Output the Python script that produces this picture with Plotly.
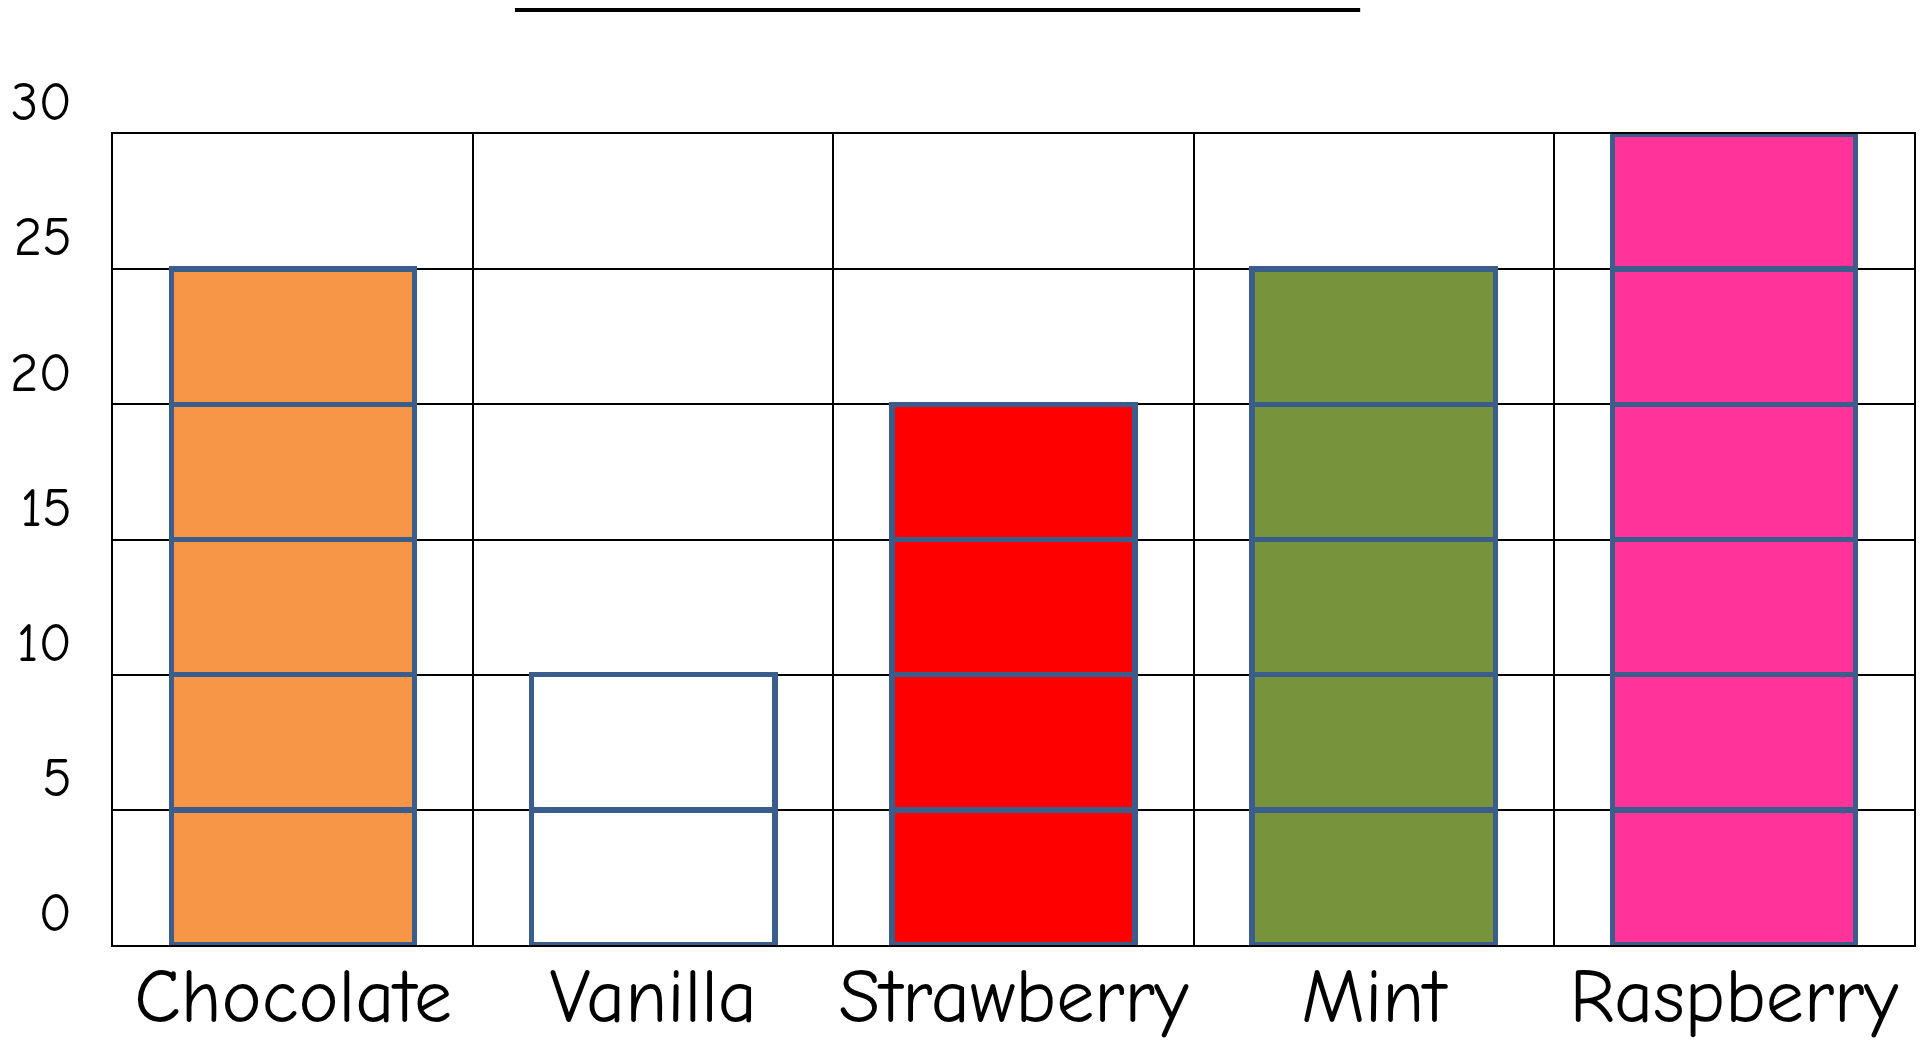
import plotly.graph_objects as go

# ---- data ----
flavours = ["Chocolate", "Vanilla", "Strawberry", "Mint", "Raspberry"]
votes = [25, 10, 20, 25, 30]
block_size = 5
bar_colors = ["#F79646", "#FFFFFF", "#FF0000", "#77933C", "#FF3399"]
y_ticks = [0, 5, 10, 15, 20, 25, 30]

OUTLINE = "#3A5D8C"
FONT = "Comic Sans MS, Comic Neue, Lato, sans-serif"

fig = go.Figure()
n_levels = max(votes) // block_size
for k in range(n_levels):
    ys = [block_size if v >= (k + 1) * block_size else None for v in votes]
    fig.add_trace(go.Bar(
        x=flavours, y=ys,
        marker=dict(color=bar_colors, line=dict(color=OUTLINE, width=5.5)),
        showlegend=False, hoverinfo="skip",
    ))

# page body has an 8px margin, so the figure is sized to fit the window
fig.update_layout(
    width=1921, height=1034,
    margin=dict(l=105, r=15, t=126, b=97),
    paper_bgcolor="white", plot_bgcolor="white",
    barmode="stack", bargap=0.325,
    font=dict(family=FONT, color="black"),
)

fig.update_xaxes(
    type="category", tickson="boundaries", automargin=False,
    showgrid=True, gridcolor="black", gridwidth=2,
    showline=True, linecolor="black", linewidth=2, mirror=True,
    ticks="", tickfont=dict(size=76, family=FONT, color="black"),
    ticklabelstandoff=-16,
    layer="below traces",
)
fig.update_yaxes(
    range=[0, max(y_ticks)], tickvals=y_ticks, ticktext=[str(t) for t in y_ticks],
    automargin=False,
    showgrid=True, gridcolor="black", gridwidth=2,
    showline=True, linecolor="black", linewidth=2, mirror=True,
    zeroline=False, ticks="",
    tickfont=dict(size=55, family=FONT, color="black"),
    ticklabelshift=-33, ticklabelstandoff=28,
    layer="below traces",
)

# blank title line
fig.add_shape(type="line", xref="paper", yref="paper",
              x0=0.2232, x1=0.6925, y0=1.1535, y1=1.1535,
              line=dict(color="black", width=5))

fig.write_html("out.html")
